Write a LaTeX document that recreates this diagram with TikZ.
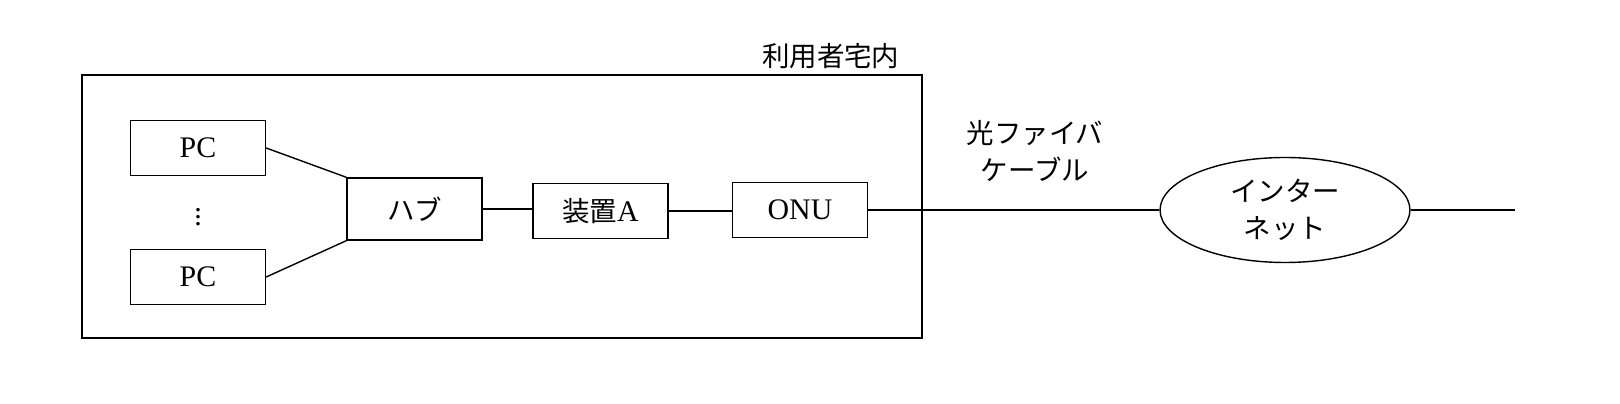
\documentclass[tikz,border=0pt]{standalone}
\usepackage{fontspec}
\setmainfont{Liberation Serif}
\newfontfamily\jp{Noto Sans CJK JP}[Scale=0.92]
\usetikzlibrary{positioning,shapes.geometric}
\tikzset{
  devbox/.style={draw,thick,minimum width=2.7cm,minimum height=1.1cm,font=\fontsize{17}{20}\selectfont},
  lbl/.style={font=\fontsize{17}{21}\selectfont\jp,align=center}
}
\begin{document}
\begin{tikzpicture}[x=0.02cm,y=-0.02cm,thick]

%%%%%%%%%%%%%%%%%%%%%%%%%%%%%%%%%%%%%%%%%%%%%%%%%%%%%%%%%%%%%%%%%
\node [draw,minimum width=16.8cm,minimum height=5.26cm] (house) at (502,206.5){};
\node [lbl,anchor=south east] (housetext) at (906,75){利用者宅内};

\node [devbox] (pc1) at (198,148){PC};
\node [devbox] (pc2) at (198,277){PC};
\node [inner sep=0pt] (dots) at (198,212){\fontsize{17}{20}\selectfont$\vdots$};

\node [devbox,minimum height=1.24cm] (hub) at (414.5,209){\jp ハブ};
\node [devbox] (devA) at (600.5,211){\jp 装置\rmfamily A};
\node [devbox] (onu) at (800,210){ONU};

\draw (pc1.east) -- (hub.north west);
\draw (pc2.east) -- (hub.south west);
\draw (hub.east) -- (hub.east -| devA.west);
\draw (devA.east) -- (devA.east -| onu.west);

\node [lbl] (fiber) at (1035,151){光ファイバ\\ケーブル};

\node [draw,ellipse,minimum width=5cm,minimum height=2.1cm,lbl] (net) at (1285,210){インター\\ネット};
\coordinate (end) at (1515,207);
\draw [line width=1.4pt] (onu.east) -- (onu.east -| net.west);
\draw [line width=1.4pt] (net.east) -- (net.east -| end);
%%%%%%%%%%%%%%%%%%%%%%%%%%%%%%%%%%%%%%%%%%%%%%%%%%%%%%%%%%%%%%%%%

\pgfresetboundingbox
\useasboundingbox (0,0) rectangle (1620,404);
\end{tikzpicture}
\end{document}
